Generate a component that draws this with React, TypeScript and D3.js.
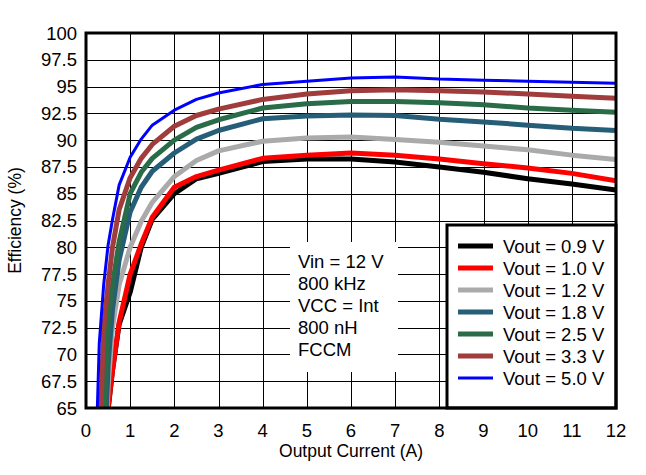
import React from "react";
import * as d3 from "d3";

const currents = [0.2, 0.3, 0.4, 0.5, 0.6, 0.75, 1, 1.25, 1.5, 2, 2.5, 3, 4, 5, 6, 7, 8, 9, 10, 11, 12];

const eff09 = [40, 45, 52, 64.8, 68.5, 72.8, 75.8, 80.0, 82.6, 85.0, 86.4, 86.9, 88.0, 88.25, 88.25, 87.95, 87.5, 87.0, 86.4, 85.9, 85.35];
const eff10 = [40, 45, 52, 65, 68.5, 73.0, 77.5, 80.3, 82.8, 85.6, 86.6, 87.2, 88.3, 88.6, 88.8, 88.6, 88.25, 87.8, 87.4, 86.9, 86.2];
const eff12 = [44, 50, 57, 67, 72.5, 76.5, 80.0, 82.4, 84.2, 86.6, 88.1, 89.0, 89.9, 90.2, 90.3, 90.05, 89.8, 89.45, 89.1, 88.6, 88.2];
const eff18 = [45, 50, 58, 69, 74.2, 78.8, 83.3, 85.6, 87.1, 88.8, 90.1, 90.9, 92.0, 92.25, 92.35, 92.3, 91.95, 91.7, 91.4, 91.1, 90.9];
const eff25 = [48, 55, 63, 73, 76.5, 80.5, 85.0, 87.0, 88.3, 90.0, 91.2, 91.9, 93.0, 93.4, 93.6, 93.6, 93.5, 93.3, 93.0, 92.8, 92.6];
const eff33 = [52, 60, 72.5, 76.5, 80, 83.5, 86.5, 88.3, 89.6, 91.3, 92.3, 92.9, 93.8, 94.3, 94.6, 94.7, 94.6, 94.5, 94.3, 94.1, 93.9];
const eff50 = [57, 71, 76.5, 80.2, 82.6, 85.8, 88.4, 90.1, 91.4, 92.8, 93.8, 94.4, 95.2, 95.5, 95.8, 95.9, 95.7, 95.6, 95.5, 95.4, 95.3];

const seriesNames = ["Vout = 0.9 V", "Vout = 1.0 V", "Vout = 1.2 V", "Vout = 1.8 V", "Vout = 2.5 V", "Vout = 3.3 V", "Vout = 5.0 V"];
const seriesValues = [eff09, eff10, eff12, eff18, eff25, eff33, eff50];
const seriesColors = ["#000000", "#ff0000", "#aaaaaa", "#265e78", "#2a6b48", "#a03c3c", "#0000ff"];
const seriesWidths = [5, 5, 5, 5, 5, 5, 3];

const xTicks = [0, 1, 2, 3, 4, 5, 6, 7, 8, 9, 10, 11, 12];
const yTicks = [65, 67.5, 70, 72.5, 75, 77.5, 80, 82.5, 85, 87.5, 90, 92.5, 95, 97.5, 100];
const noteLines = ["Vin = 12 V", "800 kHz", "VCC = Int", "800 nH", "FCCM"];

const W = 646;
const H = 475;
const L = 86, T = 33, R = 616, B = 408;
const FONT = "'Liberation Sans', Arial, Helvetica, sans-serif";

export default function App() {
  const x = d3.scaleLinear().domain([0, 12]).range([L, R]);
  const y = d3.scaleLinear().domain([65, 100]).range([B, T]);
  const line = d3
    .line<number>()
    .x((_, i) => x(currents[i]))
    .y((d) => y(d));

  return (
    <svg width={W} height={H} style={{ position: "absolute", left: 0, top: 0, background: "#fff" }}>
      <defs>
        <clipPath id="plotclip">
          <rect x={L} y={T} width={R - L} height={B - T} />
        </clipPath>
      </defs>
      <rect x={0} y={0} width={W} height={H} fill="#fff" />
      {/* grid */}
      <g shapeRendering="crispEdges">
        {xTicks.map((t) => (
          <line key={"gx" + t} x1={Math.round(x(t)) + 0.5} x2={Math.round(x(t)) + 0.5} y1={T} y2={B} stroke="#000" strokeWidth={1} />
        ))}
        {yTicks.map((t) => (
          <line key={"gy" + t} x1={L} x2={R} y1={Math.round(y(t)) + 0.5} y2={Math.round(y(t)) + 0.5} stroke="#000" strokeWidth={1} />
        ))}
      </g>
      {/* annotation background */}
      <rect x={290} y={242} width={108} height={130} fill="#fff" />
      {/* curves */}
      <g clipPath="url(#plotclip)">
        {seriesValues.map((vals, i) => (
          <path key={"s" + i} d={line(vals) || ""} fill="none" stroke={seriesColors[i]} strokeWidth={seriesWidths[i]} strokeLinejoin="round" />
        ))}
      </g>
      {/* annotation text */}
      <g fontFamily={FONT} fontSize={18.5} fill="#000">
        {noteLines.map((s, i) => (
          <text key={"n" + i} x={298} y={268 + i * 22}>{s}</text>
        ))}
      </g>
      {/* legend */}
      <rect x={447} y={225} width={169} height={183} fill="#fff" stroke="#000" strokeWidth={3} />
      <g fontFamily={FONT} fontSize={18.5} fill="#000">
        {seriesNames.map((s, i) => (
          <g key={"l" + i}>
            <line x1={458} x2={493} y1={246 + i * 22} y2={246 + i * 22} stroke={seriesColors[i]} strokeWidth={seriesWidths[i]} />
            <text x={503} y={252.5 + i * 22}>{s}</text>
          </g>
        ))}
      </g>
      {/* frame */}
      <rect x={L} y={T} width={R - L} height={B - T} fill="none" stroke="#000" strokeWidth={3} />
      {/* tick labels */}
      <g fontFamily={FONT} fontSize={18.5} fill="#000">
        {yTicks.map((t) => (
          <text key={"ty" + t} x={77} y={y(t) + 6.5} textAnchor="end">{String(t)}</text>
        ))}
        {xTicks.map((t) => (
          <text key={"tx" + t} x={x(t)} y={437} textAnchor="middle">{String(t)}</text>
        ))}
      </g>
      <text x={(L + R) / 2} y={457} textAnchor="middle" fontFamily={FONT} fontSize={17.5}>Output Current (A)</text>
      <text transform={`translate(21, ${(T + B) / 2}) rotate(-90)`} textAnchor="middle" fontFamily={FONT} fontSize={17.5}>Efficiency (%)</text>
    </svg>
  );
}
